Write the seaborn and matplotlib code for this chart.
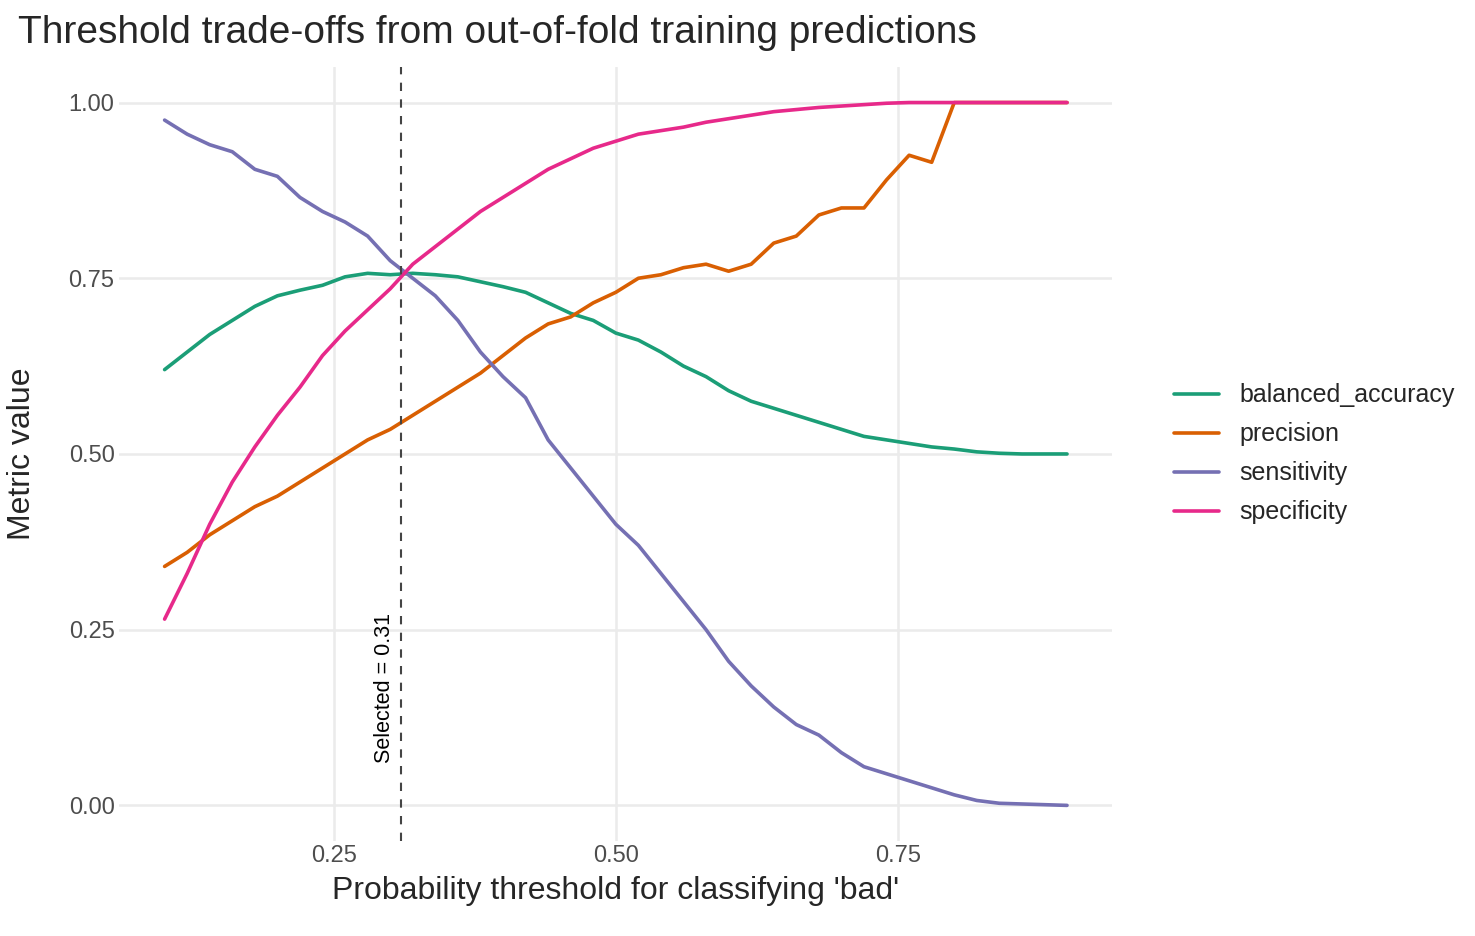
import numpy as np
import pandas as pd
import matplotlib
matplotlib.use('Agg')
import matplotlib.pyplot as plt
import seaborn as sns

# thresholds 0.10 .. 0.90 step 0.02
thresholds = [round(0.10 + 0.02 * i, 2) for i in range(41)]

balanced_accuracy = [0.62, 0.645, 0.67, 0.69, 0.71, 0.725, 0.733, 0.74, 0.752, 0.757,
                     0.755, 0.757, 0.755, 0.752, 0.745, 0.738, 0.73, 0.715, 0.70, 0.69,
                     0.672, 0.662, 0.645, 0.625, 0.61, 0.59, 0.575, 0.565, 0.555, 0.545,
                     0.535, 0.525, 0.52, 0.515, 0.51, 0.507, 0.503, 0.501, 0.50, 0.50, 0.50]
precision = [0.34, 0.36, 0.385, 0.405, 0.425, 0.44, 0.46, 0.48, 0.50, 0.52,
             0.535, 0.555, 0.575, 0.595, 0.615, 0.64, 0.665, 0.685, 0.695, 0.715,
             0.73, 0.75, 0.755, 0.765, 0.77, 0.76, 0.77, 0.80, 0.81, 0.84,
             0.85, 0.85, 0.89, 0.925, 0.915, 1.0, 1.0, 1.0, 1.0, 1.0, 1.0]
sensitivity = [0.975, 0.955, 0.94, 0.93, 0.905, 0.895, 0.865, 0.845, 0.83, 0.81,
               0.775, 0.75, 0.725, 0.69, 0.645, 0.61, 0.58, 0.52, 0.48, 0.44,
               0.40, 0.37, 0.33, 0.29, 0.25, 0.205, 0.17, 0.14, 0.115, 0.10,
               0.075, 0.055, 0.045, 0.035, 0.025, 0.015, 0.007, 0.003, 0.002, 0.001, 0.0]
specificity = [0.265, 0.33, 0.40, 0.46, 0.51, 0.555, 0.595, 0.64, 0.675, 0.705,
               0.735, 0.77, 0.795, 0.82, 0.845, 0.865, 0.885, 0.905, 0.92, 0.935,
               0.945, 0.955, 0.96, 0.965, 0.972, 0.977, 0.982, 0.987, 0.99, 0.993,
               0.995, 0.997, 0.999, 1.0, 1.0, 1.0, 1.0, 1.0, 1.0, 1.0, 1.0]
selected = 0.31

df = pd.DataFrame({'threshold': thresholds,
                   'balanced_accuracy': balanced_accuracy,
                   'precision': precision,
                   'sensitivity': sensitivity,
                   'specificity': specificity})
df_long = df.melt(id_vars='threshold', var_name='metric', value_name='value')

sns.set_style('white')
plt.rcParams['font.family'] = ['Liberation Sans', 'DejaVu Sans']

fig = plt.figure(figsize=(14.75, 9.36), dpi=100)
ax = fig.add_axes([0.081, 0.102, 0.673, 0.826])
palette = ['#1B9E77', '#D95F02', '#7570B3', '#E7298A']
sns.lineplot(data=df_long, x='threshold', y='value', hue='metric', palette=palette,
             linewidth=2.6, ax=ax)

ax.axvline(selected, color='#444444', linestyle=(0, (4, 4)), linewidth=1.5)
ax.text(selected - 0.006, 0.06, 'Selected = 0.31', rotation=90, ha='right', va='bottom',
        fontsize=15.5, color='black')

ax.set_xlim(0.06, 0.94)
ax.set_ylim(-0.05, 1.05)
ax.set_xticks([0.25, 0.50, 0.75])
ax.set_xticklabels(['0.25', '0.50', '0.75'])
ax.set_yticks([0, 0.25, 0.5, 0.75, 1.0])
ax.set_yticklabels(['0.00', '0.25', '0.50', '0.75', '1.00'])
ax.tick_params(labelsize=17, colors='#4d4d4d', length=0)
ax.grid(True, color='#ebebeb', linewidth=1.8)
for s in ax.spines.values():
    s.set_visible(False)

ax.set_xlabel("Probability threshold for classifying 'bad'", fontsize=23, labelpad=6)
ax.set_ylabel('Metric value', fontsize=23)
ax.yaxis.set_label_coords(-0.083, 0.5)
fig.text(0.012, 0.965, 'Threshold trade-offs from out-of-fold training predictions',
         fontsize=28, ha='left', va='center')

leg = ax.legend(loc='center left', bbox_to_anchor=(1.04, 0.5), frameon=False,
                fontsize=18, handlelength=1.8, labelspacing=0.6, title=None)
for line in leg.get_lines():
    line.set_linewidth(2.6)

fig.savefig('out.png', dpi=100, facecolor='white')
